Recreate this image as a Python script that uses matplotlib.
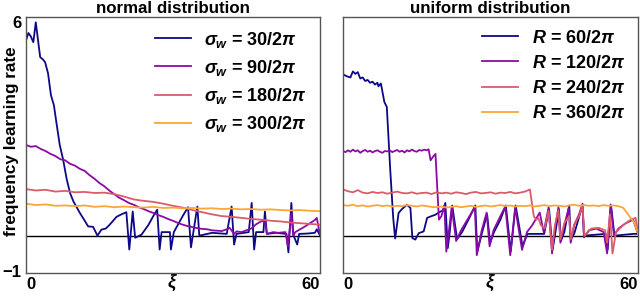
#!/usr/bin/python3

import numpy as np
import matplotlib
matplotlib.use("Agg")
import matplotlib.pyplot as plt

# ---- normal distribution panel ----
n_blue_x = [0, 0.5, 1.0, 1.5, 2.0, 2.9, 3.5, 3.9, 4.5, 5.1, 5.7, 6.3, 6.9, 7.6, 8.3, 9.0, 9.7,
            11, 12, 12.7, 13.7, 14.6, 15.4, 16.3, 17.1, 18.5, 19.5, 20.5, 21.1, 21.8, 22.3, 23.6,
            25, 26, 26.8, 27.3, 27.7, 29.4, 29.6, 30.2, 31, 32, 33.1, 33.7, 34.3, 35.0, 35.4,
            38, 41.0, 42.0, 42.5, 43, 45.5, 46.1, 46.6, 47.0, 48.5, 48.8, 49.2, 51, 53.2, 53.6,
            54.2, 54.6, 55.4, 55.8, 57.5, 59.0, 59.4, 60]
n_blue_y = [5.49, 5.7, 5.6, 5.44, 6.0, 5.02, 4.95, 4.88, 4.57, 3.95, 3.67, 3.1, 2.55, 2.13, 1.6,
            1.2, 0.96, 0.64, 0.42, 0.26, 0.25, 0.0, 0.17, 0.2, 0.31, 0.53, 0.6, 0.66, -0.39, 0.68,
            -0.06, 0.03, 0.3, 0.55, 0.73, -0.39, 0.1, 0.1, -0.39, 0.1, 0.3, 0.55, 0.8, -0.33, 0.2,
            0.82, 0.0, 0.08, 0.05, 0.82, -0.25, 0.05, 0.1, 0.92, -0.39, 0.1, 0.1, 0.68, 0.05, 0.08,
            0.05, -0.47, 0.92, 0.02, -0.25, 0.05, 0.06, 0.08, 0.18, 0.02]

n_purple_x = list(range(0, 41)) + [41, 41.6, 42.5, 43, 44, 45, 46, 47, 48, 48.8, 49.2, 50.5,
                                   51.5, 53, 53.5, 54.2, 54.6, 55, 56, 57, 58, 59, 59.4, 60]
n_purple_y = [2.55, 2.50, 2.52, 2.44, 2.38, 2.30, 2.24, 2.15, 2.12, 2.02, 1.97, 1.88, 1.82,
              1.70, 1.60, 1.48, 1.39, 1.27, 1.17, 1.07, 1.00, 0.92, 0.87, 0.80, 0.75, 0.69,
              0.64, 0.58, 0.53, 0.47, 0.42, 0.36, 0.31, 0.27, 0.24, 0.21, 0.19, 0.18, 0.15,
              0.14, 0.13,
              0.18, 0.22, 0.05, 0.12, 0.1, 0.15, 0.2, 0.32, 0.4, 0.42, 0.05, 0.1, 0.08, 0.1,
              -0.3, 0.62, 0.0, 0.1, 0.18, 0.26, 0.35, 0.44, 0.5, 0.05]

n_red_x = list(range(0, 61, 2))
n_red_y = [1.31, 1.27, 1.29, 1.24, 1.26, 1.22, 1.23, 1.20, 1.21, 1.17, 1.10, 1.02, 0.98,
           0.95, 0.90, 0.84, 0.79, 0.72, 0.66, 0.60, 0.55, 0.53, 0.50, 0.47, 0.45, 0.42,
           0.40, 0.37, 0.35, 0.33, 0.31]

n_orange_x = list(range(0, 61, 2))
n_orange_y = [0.90, 0.86, 0.88, 0.84, 0.85, 0.83, 0.85, 0.81, 0.83, 0.80, 0.82, 0.80, 0.79,
              0.81, 0.78, 0.79, 0.77, 0.78, 0.76, 0.77, 0.75, 0.76, 0.74, 0.75, 0.73, 0.74,
              0.72, 0.71, 0.72, 0.70, 0.69]

# ---- uniform distribution panel ----
u_blue_x = [0, 0.5, 1, 1.5, 2, 2.5, 3, 3.5, 4, 4.5, 5, 5.5, 6, 6.5, 7.0, 7.2, 7.7, 8.4, 8.9,
            9.6, 10.2, 10.6, 11.3, 12, 13, 13.7, 14.1, 14.7, 15.4, 16.4, 17.1, 17.8, 18.8,
            19.8, 20.3, 20.8, 21.3, 21.7, 22.2, 23.2, 24.2, 25.5, 26.9, 27.3, 28.3, 29.3,
            29.9, 30.7, 32, 33.1, 34.1, 35.1, 36.5, 37.5, 40.9, 41.9, 42.6, 43.2, 43.9, 44.3,
            45, 46.0, 46.3, 47, 48.7, 49.0, 53.4, 53.8, 54.5, 55.2, 59, 60]
u_blue_y = [4.54, 4.50, 4.47, 4.45, 4.62, 4.55, 4.60, 4.42, 4.45, 4.35, 4.38, 4.30, 4.33,
            4.25, 4.30, 4.20, 4.28, 3.76, 3.62, 1.85, 0.5, -0.08, 0.64, 0.75, 0.87, 0.78,
            -0.07, -0.11, 0.07, 0.12, 0.5, 0.54, 0.59, 0.68, 0.7, 0.92, -0.35, 0.1, 0.85,
            -0.1, 0.1, 0.45, 0.85, -0.45, 0.1, 0.6, -0.2, 0.1, 0.45, 0.85, -0.45, 0.85, -0.3,
            0.05, 0.05, 0.75, -0.4, 0.1, 0.75, -0.15, 0.1, 0.85, -0.1, 0.05, 0.85, 0.0, 0.05,
            -0.4, 0.85, 0.0, 0.05, 0.05]

u_purple_x = [0, 0.5, 1, 1.5, 2, 2.5, 3, 3.5, 4, 4.5, 5, 5.5, 6, 6.5, 7, 7.5, 8, 8.5, 9,
              9.5, 10, 10.5, 11, 11.5, 12, 12.5, 13, 13.5, 14, 14.5, 15, 15.5, 16, 16.5, 17,
              17.4, 17.8, 18.3, 18.8, 19.1, 19.5, 20.0, 20.6, 21.0, 21.5, 22.1, 23.0, 24.0,
              25.5, 26.8, 27.2, 28.2, 29.2, 29.8, 30.6, 32, 33, 34.0, 35.0, 36.4, 37.4, 38.5,
              40.0, 40.8, 41.8, 42.5, 43.1, 43.8, 44.2, 45, 45.9, 46.3, 47.0, 48.0, 48.7,
              49.0, 50, 51.5, 53.0, 53.7, 54.4, 55.1, 56, 57.5, 59, 59.6, 60]
u_purple_y = [2.38, 2.35, 2.40, 2.36, 2.42, 2.37, 2.40, 2.33, 2.38, 2.41, 2.36, 2.39, 2.34,
              2.38, 2.40, 2.36, 2.33, 2.38, 2.37, 2.40, 2.35, 2.38, 2.41, 2.36, 2.39, 2.34,
              2.40, 2.37, 2.42, 2.38, 2.36, 2.41, 2.39, 2.42, 2.40, 2.43, 2.12, 2.22, 2.30,
              1.5, 0.45, 0.55, 0.85, -0.45, 0.1, 0.8, -0.15, 0.15, 0.5, 0.8, -0.55, 0.15,
              0.65, -0.3, 0.15, 0.55, 0.82, -0.55, 0.8, -0.4, 0.1, 0.3, 0.65, 0.1, 0.8, -0.5,
              0.2, 0.8, -0.2, 0.3, 0.78, -0.2, 0.3, 0.6, 0.9, -0.05, 0.15, 0.2, 0.1, -0.5,
              0.88, 0.0, 0.2, 0.35, 0.45, 0.2, 0.05]

u_red_x = list(range(0, 39)) + [38.8, 39.3, 39.7, 40.2, 41.0, 41.8, 42.5, 43.1, 43.8, 44.2,
                                45, 46, 46.3, 47, 48, 48.7, 49.1, 50.5, 52, 53.3, 53.7,
                                54.3, 54.8, 55.5, 57, 58.5, 59.5, 60]
u_red_y = [1.30, 1.25, 1.22, 1.28, 1.21, 1.19, 1.23, 1.20, 1.22, 1.18, 1.21, 1.24, 1.20,
           1.19, 1.22, 1.18, 1.20, 1.21, 1.17, 1.22, 1.19, 1.21, 1.18, 1.22, 1.20, 1.17,
           1.21, 1.23, 1.19, 1.20, 1.22, 1.18, 1.21, 1.20, 1.23, 1.19, 1.21, 1.24, 1.30,
           0.54, 0.45, 0.5, 0.3, 0.2, 0.7, -0.4, 0.3, 0.72, -0.1, 0.35, 0.55, -0.1, 0.3,
           0.55, 0.85, 0.0, 0.2, 0.22, 0.15, -0.2, 0.6, -0.5, 0.1, 0.3, 0.45, 0.5, 0.05]

u_orange_x = list(range(0, 58)) + [58.5, 59.3, 59.9, 60]
u_orange_y = [0.86, 0.84, 0.87, 0.83, 0.85, 0.82, 0.84, 0.86, 0.83, 0.85, 0.82, 0.84, 0.83,
              0.86, 0.84, 0.82, 0.85, 0.83, 0.81, 0.80, 0.82, 0.79, 0.81, 0.83, 0.80, 0.82,
              0.84, 0.81, 0.83, 0.85, 0.82, 0.84, 0.86, 0.83, 0.85, 0.82, 0.84, 0.83, 0.85,
              0.82, 0.84, 0.86, 0.83, 0.85, 0.84, 0.82, 0.85, 0.87, 0.84, 0.86, 0.84, 0.85,
              0.83, 0.86, 0.84, 0.85, 0.83, 0.78, 0.5, 0.35, 0.1, 0.05]

normal_labels = [r"$\sigma_w$ = 30/2$\pi$", r"$\sigma_w$ = 90/2$\pi$",
                 r"$\sigma_w$ = 180/2$\pi$", r"$\sigma_w$ = 300/2$\pi$"]
uniform_labels = [r"$R$ = 60/2$\pi$", r"$R$ = 120/2$\pi$",
                  r"$R$ = 240/2$\pi$", r"$R$ = 360/2$\pi$"]

colors = ["#0d0887", "#8b0aa5", "#db5c68", "#fca636"]

plt.rcParams["font.family"] = "Liberation Sans"
plt.rcParams["font.weight"] = "bold"
plt.rcParams["mathtext.fontset"] = "custom"
plt.rcParams["mathtext.it"] = "Liberation Sans:italic:bold"
plt.rcParams["mathtext.rm"] = "Liberation Sans:bold"
plt.rcParams["mathtext.bf"] = "Liberation Sans:bold"


def setup(ax, title):
    ax.set_xlim(0, 60)
    ax.set_ylim(-1.05, 6.15)
    ax.set_xticks([0, 60])
    ax.set_yticks([-1, 6])
    ax.tick_params(length=0, labelsize=12, pad=3)
    xl = ax.get_xticklabels()
    xl[0].set_horizontalalignment("left")
    xl[1].set_horizontalalignment("right")
    for s in ax.spines.values():
        s.set_color("#555555")
        s.set_linewidth(1.0)
    ax.axhline(0, color="black", lw=1.0, zorder=1)
    ax.set_title(title, fontsize=12.2, fontweight="bold", pad=3)
    ax.set_xlabel(r"$\xi$", fontsize=13, labelpad=-14)


fig = plt.figure(figsize=(6.4, 2.97), dpi=100)
ax1 = fig.add_axes([0.0406, 0.0808, 0.459, 0.862])
ax2 = fig.add_axes([0.536, 0.0808, 0.461, 0.862])

series1 = [(n_blue_x, n_blue_y), (n_purple_x, n_purple_y),
           (n_red_x, n_red_y), (n_orange_x, n_orange_y)]
series2 = [(u_blue_x, u_blue_y), (u_purple_x, u_purple_y),
           (u_red_x, u_red_y), (u_orange_x, u_orange_y)]

for ax, series, labels, title in [(ax1, series1, normal_labels, "normal distribution"),
                                  (ax2, series2, uniform_labels, "uniform distribution")]:
    setup(ax, title)
    for (x, y), lab, c in zip(series, labels, colors):
        ax.plot(x, y, color=c, lw=1.3, label=lab, zorder=2)
    ax.legend(loc="upper right", bbox_to_anchor=(1.0, 1.0), frameon=False,
              fontsize=13, handlelength=2.0, handletextpad=0.75, labelspacing=0.45,
              borderaxespad=0.3)

ax2.set_yticklabels([])
ax1.set_ylabel("frequency learning rate", fontsize=12.3, fontweight="bold")
ax1.yaxis.set_label_coords(-0.023, 0.514)

fig.savefig("out.png", dpi=100)
